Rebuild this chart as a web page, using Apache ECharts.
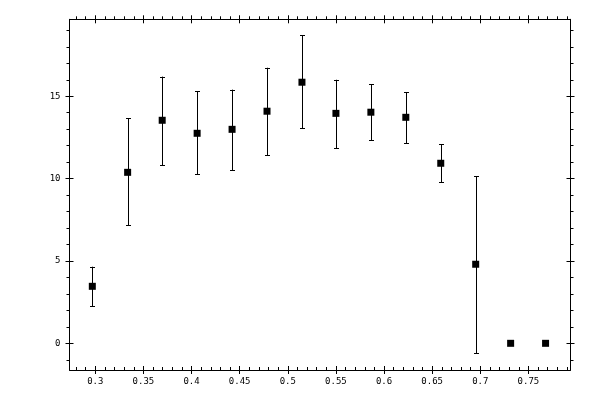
<!DOCTYPE html>
<html>
<head>
<meta charset="utf-8">
<script src="https://cdn.jsdelivr.net/npm/echarts@6/dist/echarts.min.js"></script>
<style>html,body{margin:0;padding:0;background:#fff;}#c{width:600px;height:400px;}</style>
</head>
<body>
<div id="c"></div>
<script>
var xValues = [0.2969, 0.3336, 0.3695, 0.4058, 0.4421, 0.4784, 0.5147, 0.5500, 0.5863, 0.6226, 0.6589, 0.6952, 0.7315, 0.7678];
var yValues = [3.46, 10.38, 13.54, 12.75, 12.99, 14.09, 15.85, 13.96, 14.03, 13.72, 10.93, 4.80, 0, 0];
var yErrHigh = [4.65, 13.66, 16.19, 15.30, 15.40, 16.73, 18.70, 16.00, 15.73, 15.24, 12.08, 10.14, null, null];
var yErrLow = [2.25, 7.18, 10.81, 10.26, 10.50, 11.41, 13.05, 11.84, 12.33, 12.14, 9.78, -0.61, null, null];
var xTickLabels = [0.3, 0.35, 0.4, 0.45, 0.5, 0.55, 0.6, 0.65, 0.7, 0.75];
var yTickLabels = [0, 5, 10, 15];
var xMinorTicks = [];
for (var i = 28; i <= 79; i++) xMinorTicks.push(i / 100);
var yMinorTicks = [];
for (var j = -1; j <= 19; j++) yMinorTicks.push(j);

var X_MIN = 0.2732, X_MAX = 0.7937, Y_MIN = -1.62, Y_MAX = 19.67;
var FONT = 'DejaVu Sans Mono';

function xAx(pos, ticks, inside, len, labels, showLine) {
  return {
    type: 'value', position: pos, min: X_MIN, max: X_MAX,
    splitLine: {show: false},
    axisLine: {show: showLine, onZero: false, lineStyle: {color: '#000', width: 1}},
    axisTick: {show: true, inside: inside, length: len, customValues: ticks, lineStyle: {color: '#000', width: 1}},
    axisLabel: labels ? {show: true, customValues: xTickLabels, color: '#000', fontFamily: FONT, fontSize: 9, margin: 7,
      formatter: function (v) { return String(Math.round(v * 100) / 100); }} : {show: false}
  };
}
function yAx(pos, ticks, inside, len, labels, showLine) {
  return {
    type: 'value', position: pos, min: Y_MIN, max: Y_MAX,
    splitLine: {show: false},
    axisLine: {show: showLine, onZero: false, lineStyle: {color: '#000', width: 1}},
    axisTick: {show: true, inside: inside, length: len, customValues: ticks, lineStyle: {color: '#000', width: 1}},
    axisLabel: labels ? {show: true, customValues: yTickLabels, color: '#000', fontFamily: FONT, fontSize: 9, margin: 9} : {show: false}
  };
}

var chart = echarts.init(document.getElementById('c'), null, {renderer: 'canvas'});
var pts = xValues.map(function (x, i) { return [x, yValues[i]]; });
var errs = [];
xValues.forEach(function (x, i) {
  if (yErrHigh[i] !== null) errs.push([x, yErrLow[i], yErrHigh[i]]);
});

chart.setOption({
  animation: false,
  backgroundColor: '#fff',
  grid: {left: 69.5, right: 29.5, top: 19.3, bottom: 30, containLabel: false},
  xAxis: [
    xAx('bottom', xTickLabels, false, 4, true, true),
    xAx('bottom', xMinorTicks, true, 3, false, false),
    xAx('bottom', xTickLabels, true, 4, false, false),
    xAx('top', xMinorTicks, false, 3, false, true),
    xAx('top', xTickLabels, false, 4, false, false),
    xAx('top', xTickLabels, true, 4, false, false)
  ],
  yAxis: [
    yAx('left', yTickLabels, false, 4, true, true),
    yAx('left', yMinorTicks, false, 3, false, false),
    yAx('left', yTickLabels, true, 4, false, false),
    yAx('right', yMinorTicks, false, 3, false, true),
    yAx('right', yTickLabels, false, 4, false, false),
    yAx('right', yTickLabels, true, 4, false, false)
  ],
  series: [
    {
      type: 'custom', xAxisIndex: 0, yAxisIndex: 0, data: errs, z: 2,
      renderItem: function (params, api) {
        var x = api.value(0);
        var lo = api.coord([x, api.value(1)]);
        var hi = api.coord([x, api.value(2)]);
        var cx = Math.round(lo[0]) + 0.5;
        var hw = 2.5;
        var st = {stroke: '#000', lineWidth: 1};
        return {type: 'group', children: [
          {type: 'line', shape: {x1: cx, y1: lo[1], x2: cx, y2: hi[1]}, style: st},
          {type: 'line', shape: {x1: cx - hw, y1: Math.round(hi[1]) + 0.5, x2: cx + hw, y2: Math.round(hi[1]) + 0.5}, style: st},
          {type: 'line', shape: {x1: cx - hw, y1: Math.round(lo[1]) + 0.5, x2: cx + hw, y2: Math.round(lo[1]) + 0.5}, style: st}
        ]};
      }
    },
    {
      type: 'scatter', xAxisIndex: 0, yAxisIndex: 0, data: pts, z: 3,
      symbol: 'rect', symbolSize: 7,
      itemStyle: {color: '#000', opacity: 1}
    }
  ]
});
</script>
</body>
</html>
